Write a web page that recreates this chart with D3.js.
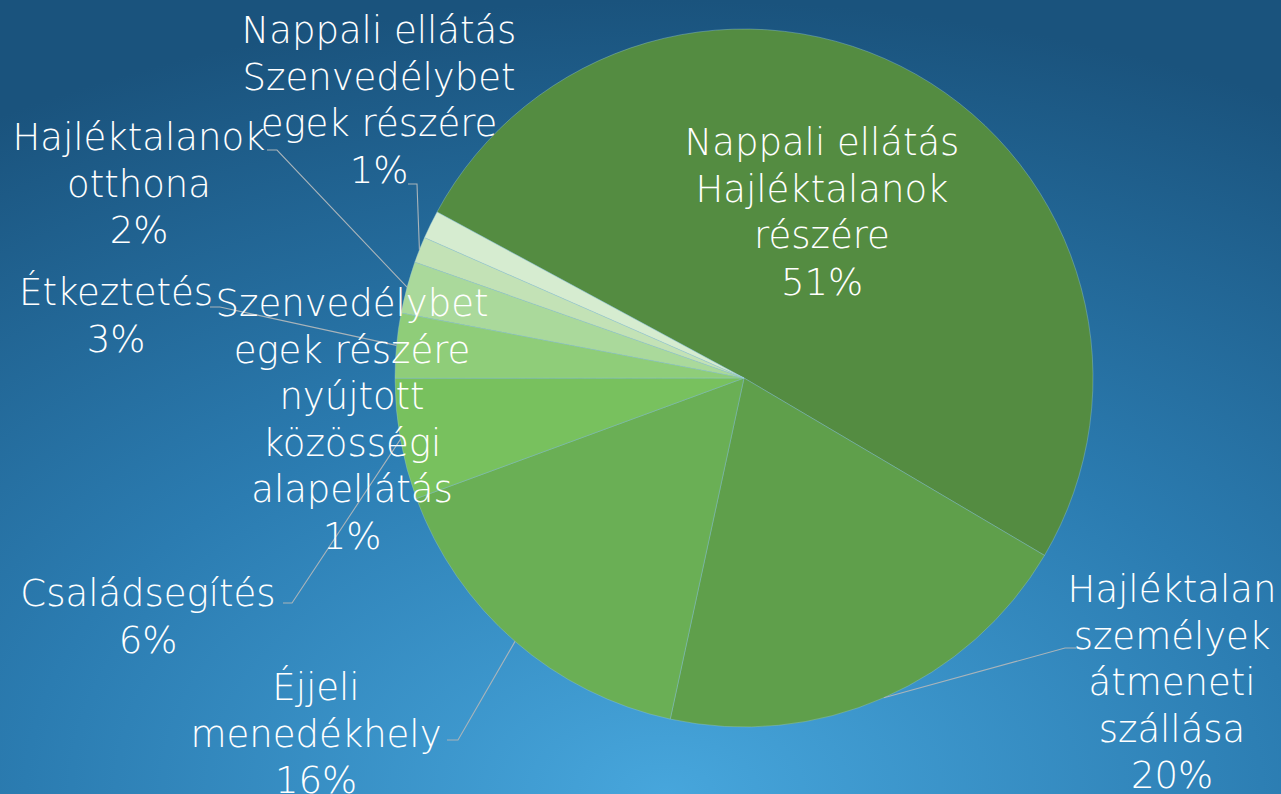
<!DOCTYPE html>
<html>
<head>
<meta charset="utf-8">
<script src="https://cdn.jsdelivr.net/npm/d3@7"></script>
<style>
  body { margin: 0; overflow: hidden; }
  svg { display: block; }
</style>
</head>
<body>
<svg id="frame"></svg>
<script>
// data (in pie order, clockwise)
const categories = [
  "Nappali ellátás\nHajléktalanok\nrészére",
  "Hajléktalan\nszemélyek\nátmeneti\nszállása",
  "Éjjeli\nmenedékhely",
  "Családsegítés",
  "Étkeztetés",
  "Hajléktalanok\notthona",
  "Nappali ellátás\nSzenvedélybet\negek részére",
  "Szenvedélybet\negek részére\nnyújtott\nközösségi\nalapellátás"
];
const values = [50.6, 19.9, 16.0, 5.6, 3.0, 2.4, 1.2, 1.3];
const colors = ["#548c41", "#5f9f4b", "#6aaf55", "#78c15e", "#8fcd79", "#aad99b", "#c3e2b6", "#d6ecd0"];

// -------------------
const width = 1281;
const height = 794;
const cx = 744, cy = 378, r = 349;
const startDeg = 298.4;
const fontSize = 37;
const lineH = 46.5;

// label layout: centre x, first baseline, leader end (elbow, tick)
const labelLayout = [
  {x: 822, y: 155},
  {x: 1172, y: 602, elbow: [1065, 648], tick: [1076, 648]},
  {x: 316, y: 700, elbow: [458, 740], tick: [447, 740]},
  {x: 148, y: 606, elbow: [292, 603], tick: [283, 603]},
  {x: 116, y: 305, elbow: [220, 307], tick: [210, 307]},
  {x: 139, y: 150, elbow: [277, 150], tick: [267, 150]},
  {x: 379, y: 43, elbow: [417, 184], tick: [408, 184]},
  {x: 352, y: 316}
];

const svg = d3.select('#frame')
  .attr('width', width)
  .attr('height', height);

// background
const defs = svg.append('defs');
const grad = defs.append('radialGradient')
  .attr('id', 'bg')
  .attr('cx', '52%').attr('cy', '100%')
  .attr('r', '100%');
grad.append('stop').attr('offset', '0%').attr('stop-color', '#47a6dc');
grad.append('stop').attr('offset', '50%').attr('stop-color', '#2b7cb1');
grad.append('stop').attr('offset', '100%').attr('stop-color', '#1a537d');

svg.append('rect')
  .attr('width', width).attr('height', height)
  .attr('fill', 'url(#bg)');

const pie = d3.pie()
  .sort(null)
  .value(d => d)
  .startAngle(startDeg * Math.PI / 180)
  .endAngle(startDeg * Math.PI / 180 + 2 * Math.PI);

const arcs = pie(values);
const total = d3.sum(values);

const arc = d3.arc().innerRadius(0).outerRadius(r);
const edgeArc = d3.arc().innerRadius(r).outerRadius(r);

const g = svg.append('g').attr('transform', `translate(${cx},${cy})`);

g.selectAll('path.slice').data(arcs).enter()
  .append('path')
  .attr('class', 'slice')
  .attr('d', arc)
  .attr('fill', (d, i) => colors[i])
  .attr('stroke', 'rgba(150,200,215,0.55)')
  .attr('stroke-width', 0.7);

// leader lines
const line = d3.line();
svg.selectAll('path.leader')
  .data(arcs.filter((d, i) => labelLayout[i].elbow))
  .enter()
  .append('path')
  .attr('class', 'leader')
  .attr('d', d => {
    const L = labelLayout[d.index];
    const c = edgeArc.centroid(d);
    return line([[cx + c[0], cy + c[1]], L.elbow, L.tick]);
  })
  .attr('fill', 'none')
  .attr('stroke', '#a9b4ba')
  .attr('stroke-width', 1.1);

// labels
const labels = svg.selectAll('text.lbl').data(arcs).enter()
  .append('text')
  .attr('class', 'lbl')
  .attr('text-anchor', 'middle')
  .attr('fill', '#ffffff')
  .style('font-family', '"DejaVu Sans", sans-serif')
  .style('font-weight', 300)
  .style('font-size', fontSize + 'px');

labels.each(function(d, i) {
  const L = labelLayout[i];
  const lines = categories[i].split('\n');
  lines.push(Math.round(d.value / total * 100) + '%');
  d3.select(this).selectAll('tspan').data(lines).enter()
    .append('tspan')
    .attr('x', L.x)
    .attr('y', (t, k) => L.y + k * lineH)
    .text(t => t);
});
</script>
</body>
</html>
